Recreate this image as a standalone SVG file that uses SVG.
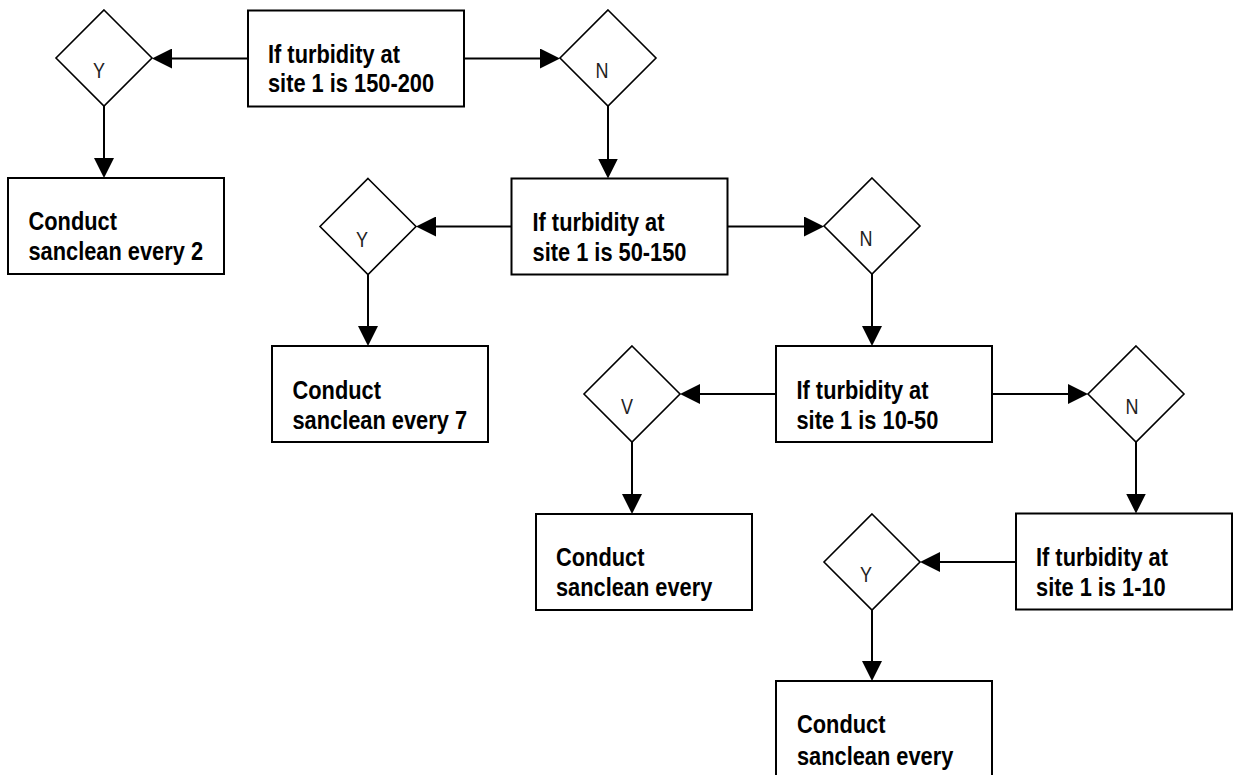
<svg xmlns="http://www.w3.org/2000/svg" width="1238" height="775" viewBox="0 0 1238 775">
<defs>
<style>
.box{fill:#fff;stroke:#000;stroke-width:2}
.dia{fill:#fff;stroke:#000;stroke-width:1.6}
.t{font-family:"Liberation Sans Narrow","Arial Narrow","Liberation Sans",Arial,sans-serif;font-size:26.5px;font-weight:bold;fill:#000}
.l{font-family:"Liberation Sans Narrow","Arial Narrow","Liberation Sans",Arial,sans-serif;font-size:22px;fill:#222;text-anchor:middle}
.c{stroke:#000;stroke-width:2;fill:none;marker-end:url(#ah)}
</style>
<marker id="ah" markerUnits="userSpaceOnUse" markerWidth="20" markerHeight="20" refX="16" refY="10" orient="auto">
<path d="M0,0 L20,10 L0,20 Z" fill="#000"/>
</marker>
</defs>
<rect width="1238" height="775" fill="#fff"/>
<g id="connectors">
<line class="c" x1="248" y1="58.5" x2="156" y2="58.5"/>
<line class="c" x1="464" y1="58.5" x2="556" y2="58.5"/>
<line class="c" x1="104" y1="106" x2="104" y2="174"/>
<line class="c" x1="608" y1="106" x2="608" y2="174.5"/>
<line class="c" x1="511.5" y1="226.5" x2="420" y2="226.5"/>
<line class="c" x1="727.5" y1="226.5" x2="820" y2="226.5"/>
<line class="c" x1="368" y1="274.5" x2="368" y2="342"/>
<line class="c" x1="872" y1="274" x2="872" y2="342"/>
<line class="c" x1="776" y1="394" x2="684" y2="394"/>
<line class="c" x1="992" y1="394" x2="1084" y2="394"/>
<line class="c" x1="632" y1="442" x2="632" y2="510"/>
<line class="c" x1="1136" y1="442" x2="1136" y2="509.5"/>
<line class="c" x1="1016" y1="562" x2="924" y2="562"/>
<line class="c" x1="872" y1="610" x2="872" y2="677"/>
</g>
<g id="q1"><rect class="box" x="248" y="10.5" width="216" height="96"/><text class="t" x="268" y="62.5" textLength="132" lengthAdjust="spacingAndGlyphs">If turbidity at</text><text class="t" x="268" y="92" textLength="166" lengthAdjust="spacingAndGlyphs">site 1 is 150-200</text></g>
<g id="y1"><path class="dia" d="M104,10 L152,58 L104,106 L56,58 Z"/><text class="l" x="99" y="78" textLength="12" lengthAdjust="spacingAndGlyphs">Y</text></g>
<g id="n1"><path class="dia" d="M608,10 L656,58 L608,106 L560,58 Z"/><text class="l" x="602" y="77.5" textLength="13" lengthAdjust="spacingAndGlyphs">N</text></g>
<g id="a1"><rect class="box" x="8" y="178" width="216" height="96"/><text class="t" x="28.5" y="230" textLength="88.4" lengthAdjust="spacingAndGlyphs">Conduct</text><text class="t" x="28.5" y="260" textLength="174.5" lengthAdjust="spacingAndGlyphs">sanclean every 2</text></g>
<g id="q2"><rect class="box" x="511.5" y="178.5" width="216" height="96"/><text class="t" x="532.5" y="230.5" textLength="132" lengthAdjust="spacingAndGlyphs">If turbidity at</text><text class="t" x="532.5" y="260.5" textLength="154" lengthAdjust="spacingAndGlyphs">site 1 is 50-150</text></g>
<g id="y2"><path class="dia" d="M368,178.5 L416,226.5 L368,274.5 L320,226.5 Z"/><text class="l" x="362" y="246.5" textLength="12" lengthAdjust="spacingAndGlyphs">Y</text></g>
<g id="n2"><path class="dia" d="M872,178 L920,226 L872,274 L824,226 Z"/><text class="l" x="866" y="245.5" textLength="13" lengthAdjust="spacingAndGlyphs">N</text></g>
<g id="a2"><rect class="box" x="272" y="346" width="216" height="96"/><text class="t" x="292.5" y="398.5" textLength="88.4" lengthAdjust="spacingAndGlyphs">Conduct</text><text class="t" x="292.5" y="428.5" textLength="174.5" lengthAdjust="spacingAndGlyphs">sanclean every 7</text></g>
<g id="q3"><rect class="box" x="776" y="346" width="216" height="96"/><text class="t" x="796.5" y="398.5" textLength="132" lengthAdjust="spacingAndGlyphs">If turbidity at</text><text class="t" x="796.5" y="428.5" textLength="141.8" lengthAdjust="spacingAndGlyphs">site 1 is 10-50</text></g>
<g id="y3"><path class="dia" d="M632,346 L680,394 L632,442 L584,394 Z"/><text class="l" x="627" y="414" textLength="12" lengthAdjust="spacingAndGlyphs">V</text></g>
<g id="n3"><path class="dia" d="M1136,346 L1184,394 L1136,442 L1088,394 Z"/><text class="l" x="1132" y="414" textLength="13" lengthAdjust="spacingAndGlyphs">N</text></g>
<g id="a3"><rect class="box" x="536" y="514" width="216" height="96"/><text class="t" x="556" y="566" textLength="88.4" lengthAdjust="spacingAndGlyphs">Conduct</text><text class="t" x="556" y="596" textLength="156.3" lengthAdjust="spacingAndGlyphs">sanclean every</text></g>
<g id="q4"><rect class="box" x="1016" y="513.5" width="216" height="96"/><text class="t" x="1036" y="566" textLength="132" lengthAdjust="spacingAndGlyphs">If turbidity at</text><text class="t" x="1036" y="596" textLength="129.7" lengthAdjust="spacingAndGlyphs">site 1 is 1-10</text></g>
<g id="y4"><path class="dia" d="M872,514 L920,562 L872,610 L824,562 Z"/><text class="l" x="866" y="582" textLength="12" lengthAdjust="spacingAndGlyphs">Y</text></g>
<g id="a4"><rect class="box" x="776" y="681" width="216" height="110"/><text class="t" x="797" y="733" textLength="88.4" lengthAdjust="spacingAndGlyphs">Conduct</text><text class="t" x="797" y="765" textLength="156.3" lengthAdjust="spacingAndGlyphs">sanclean every</text></g>
</svg>
